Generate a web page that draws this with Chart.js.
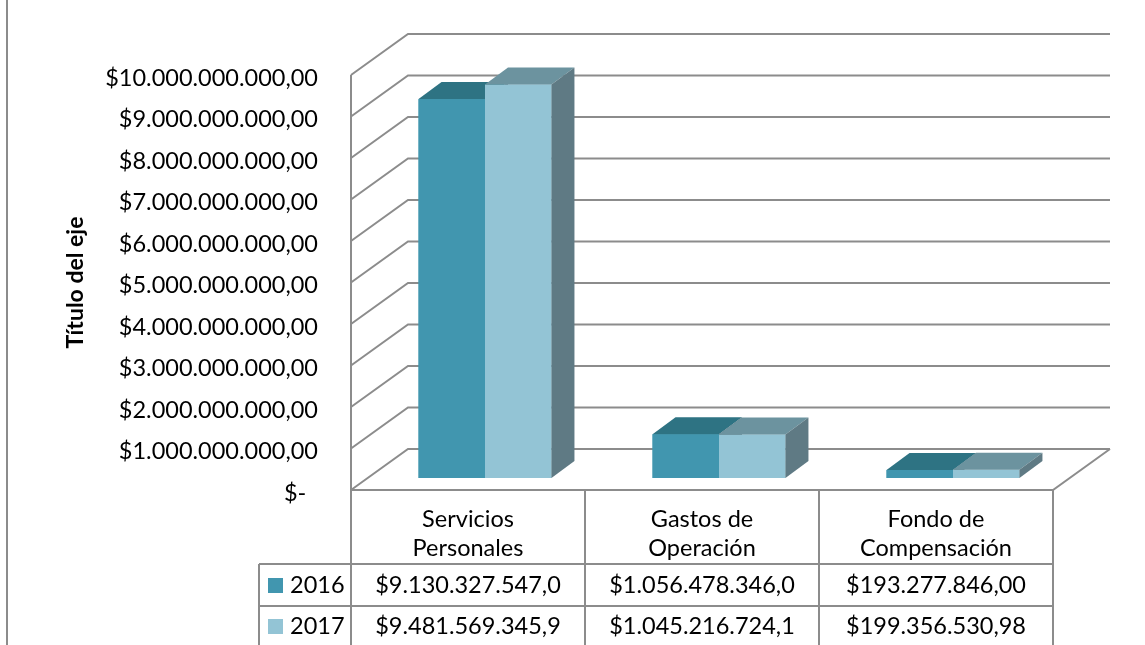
<!DOCTYPE html>
<html>
<head>
<meta charset="utf-8">
<script src="https://cdn.jsdelivr.net/npm/chart.js@4"></script>
<style>
  body { margin: 0; background: #fff; }
  #wrap { width: 1145px; height: 645px; position: relative; }
</style>
</head>
<body>
<div id="wrap"><canvas id="gastos-3d-chart"></canvas></div>
<script>
// data
const categories = [
    ["Servicios", "Personales"],
    ["Gastos de", "Operación"],
    ["Fondo de", "Compensación"]
]
const seriesNames = ["2016", "2017"]
const values2016 = [9130327547.0, 1056478346.0, 193277846.00]
const values2017 = [9481569345.9, 1045216724.1, 199356530.98]

// what the data table underneath shows (Excel cuts some cells)
const table2016 = ["$9.130.327.547,0", "$1.056.478.346,0", "$193.277.846,00"]
const table2017 = ["$9.481.569.345,9", "$1.045.216.724,1", "$199.356.530,98"]

const yTickLabels = [
    "$-\u2002",
    "$1.000.000.000,00",
    "$2.000.000.000,00",
    "$3.000.000.000,00",
    "$4.000.000.000,00",
    "$5.000.000.000,00",
    "$6.000.000.000,00",
    "$7.000.000.000,00",
    "$8.000.000.000,00",
    "$9.000.000.000,00",
    "$10.000.000.000,00"
]

const frontColors = ["#4196af", "#93c4d5"]
const topColors = ["#2e7383", "#6c939f"]
const sideColor = "#5f7a84"
const lineColor = "#8c8c8c"
const fontName = "Lato"
const textSize = 23.5

// 3d look: depth of the floor, shift of the bars into it, depth of a bar
const wallDX = 57, wallDY = -41
const barShiftX = 17, barShiftY = -12
const barDX = 23, barDY = -17

const threeD = {
    id: "threeD",
    beforeDatasetsDraw(chart) {
        const ctx = chart.ctx
        const y = chart.scales.y
        const area = chart.chartArea
        ctx.save()
        ctx.strokeStyle = lineColor
        ctx.lineWidth = 2
        // gridlines on side wall and back wall
        y.ticks.forEach(t => {
            const py = y.getPixelForValue(t.value)
            ctx.beginPath()
            ctx.moveTo(area.left, py)
            ctx.lineTo(area.left + wallDX, py + wallDY)
            ctx.lineTo(area.right + wallDX, py + wallDY)
            ctx.stroke()
        })
        // front left edge
        ctx.beginPath()
        ctx.moveTo(area.left, area.top)
        ctx.lineTo(area.left, area.bottom)
        ctx.stroke()
        // floor
        ctx.beginPath()
        ctx.moveTo(area.left, area.bottom)
        ctx.lineTo(area.right, area.bottom)
        ctx.lineTo(area.right + wallDX, area.bottom + wallDY)
        ctx.stroke()
        ctx.restore()

        // bars drawn pushed back into the floor
        ctx.save()
        ctx.translate(barShiftX, barShiftY)
    },
    afterDatasetsDraw(chart) {
        const ctx = chart.ctx
        ctx.restore()
        const metas = chart.data.datasets.map((d, i) => chart.getDatasetMeta(i))
        for (let c = 0; c < categories.length; c++) {
            metas.forEach((meta, d) => {
                const bar = meta.data[c]
                const half = bar.width / 2
                const x0 = bar.x - half + barShiftX
                const x1 = bar.x + half + barShiftX
                const yt = bar.y + barShiftY
                const yb = bar.base + barShiftY
                // front again so the neighbour's side gets covered
                ctx.fillStyle = frontColors[d]
                ctx.fillRect(x0, yt, x1 - x0, yb - yt)
                // top
                ctx.fillStyle = topColors[d]
                ctx.beginPath()
                ctx.moveTo(x0, yt)
                ctx.lineTo(x0 + barDX, yt + barDY)
                ctx.lineTo(x1 + barDX, yt + barDY)
                ctx.lineTo(x1, yt)
                ctx.closePath()
                ctx.fill()
                // side
                ctx.fillStyle = sideColor
                ctx.beginPath()
                ctx.moveTo(x1, yt)
                ctx.lineTo(x1 + barDX, yt + barDY)
                ctx.lineTo(x1 + barDX, yb + barDY)
                ctx.lineTo(x1, yb)
                ctx.closePath()
                ctx.fill()
            })
        }
    },
    afterDraw(chart) {
        const ctx = chart.ctx
        const area = chart.chartArea
        const x = chart.scales.x
        const colW = (area.right - area.left) / categories.length
        const row1 = 564, row2 = 606, rowEnd = 648
        const legendLeft = 259

        ctx.save()
        ctx.strokeStyle = lineColor
        ctx.lineWidth = 2
        // outer frame, left side
        ctx.beginPath()
        ctx.moveTo(7, 0)
        ctx.lineTo(7, 645)
        ctx.stroke()
        // table grid
        ctx.beginPath()
        for (let i = 0; i <= categories.length; i++) {
            ctx.moveTo(area.left + i * colW, area.bottom)
            ctx.lineTo(area.left + i * colW, rowEnd)
        }
        ctx.moveTo(legendLeft, row1)
        ctx.lineTo(legendLeft, rowEnd)
        ctx.moveTo(legendLeft, row1)
        ctx.lineTo(area.right, row1)
        ctx.moveTo(legendLeft, row2)
        ctx.lineTo(area.right, row2)
        ctx.stroke()

        // texts
        ctx.fillStyle = "#000"
        ctx.font = textSize + "px " + fontName
        ctx.textAlign = "center"
        ctx.textBaseline = "middle"
        categories.forEach((lines, i) => {
            const cx = x.getPixelForValue(i)
            ctx.fillText(lines[0], cx, 519)
            ctx.fillText(lines[1], cx, 548)
            ctx.fillText(table2016[i], cx, (row1 + row2) / 2)
            ctx.fillText(table2017[i], cx, (row2 + rowEnd) / 2 - 1)
        })
        // legend keys
        ctx.textAlign = "left"
        const rows = [(row1 + row2) / 2, (row2 + rowEnd) / 2 - 1]
        seriesNames.forEach((name, i) => {
            ctx.fillStyle = frontColors[i]
            ctx.fillRect(268, rows[i] - 7, 15, 15)
            ctx.fillStyle = "#000"
            ctx.fillText(name, 290, rows[i])
        })
        ctx.restore()
    }
}

new Chart("gastos-3d-chart", {
    type: "bar",
    data: {
        labels: categories.map(l => l.join(" ")),
        datasets: [
            { label: seriesNames[0], data: values2016, backgroundColor: frontColors[0] },
            { label: seriesNames[1], data: values2017, backgroundColor: frontColors[1] }
        ]
    },
    options: {
        responsive: true,
        maintainAspectRatio: false,
        animation: false,
        clip: false,
        categoryPercentage: 0.568,
        barPercentage: 1,
        layout: { padding: { left: 10, right: 92, top: 75, bottom: 155 } },
        plugins: {
            legend: { display: false },
            tooltip: { enabled: false }
        },
        scales: {
            x: { display: false },
            y: {
                min: 0,
                max: 10000000000,
                grid: { display: false, drawTicks: false, tickLength: 0 },
                border: { display: false },
                ticks: {
                    stepSize: 1000000000,
                    padding: 33,
                    labelOffset: 3,
                    color: "#000",
                    font: { family: fontName, size: textSize },
                    callback: (v, i) => yTickLabels[i]
                },
                title: {
                    display: true,
                    text: "Título del eje",
                    color: "#000",
                    font: { family: fontName, size: 23, weight: "bold" },
                    padding: { top: 52, bottom: 0 }
                },
                afterFit(scale) { scale.width = 341 }
            }
        }
    },
    plugins: [threeD]
});
</script>
</body>
</html>
